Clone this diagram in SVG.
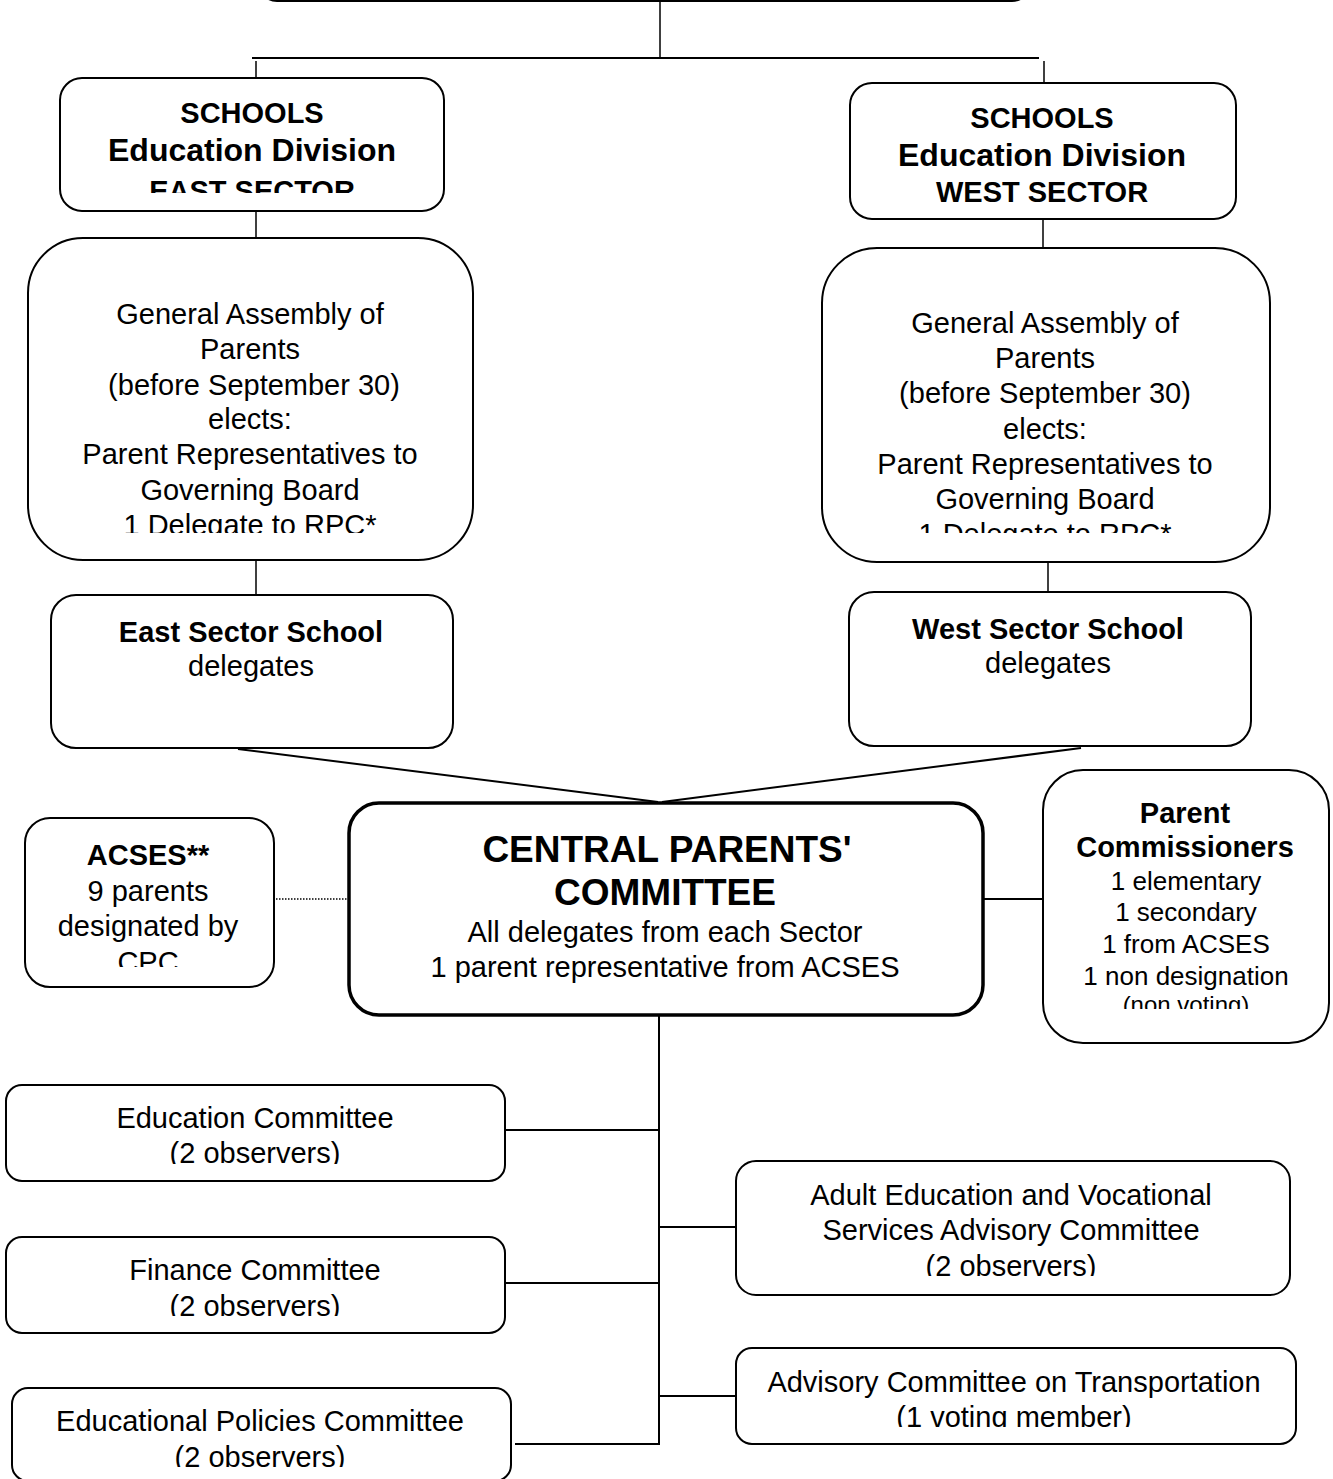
<svg xmlns="http://www.w3.org/2000/svg" width="1333" height="1479" viewBox="0 0 1333 1479">
<style>
.box{fill:#fff;stroke:#000;stroke-width:2}
.thick{fill:#fff;stroke:#000;stroke-width:3.5}
.ln{fill:none;stroke:#000;stroke-width:1.5}
.ln2{fill:none;stroke:#000;stroke-width:2}
.dot{fill:none;stroke:#000;stroke-width:1.5;stroke-dasharray:1.5 1.5}
text{font-family:"Liberation Sans",Arial,Helvetica,sans-serif;fill:#000;text-anchor:middle}
.n{font-size:29px}
.b{font-size:29px;font-weight:bold}
.bl{font-size:32px;font-weight:bold}
.t{font-size:37px;font-weight:bold}
.s{font-size:26px}
.xs{font-size:24px}
</style>
<defs>
<clipPath id="cEast"><rect x="60" y="78" width="384" height="115"/></clipPath>
<clipPath id="cGaE"><rect x="28" y="238" width="445" height="295"/></clipPath>
<clipPath id="cGaW"><rect x="822" y="248" width="448" height="285"/></clipPath>
<clipPath id="cAcses"><rect x="25" y="818" width="249" height="149"/></clipPath>
<clipPath id="cComm"><rect x="1043" y="770" width="286" height="239"/></clipPath>
<clipPath id="cEd"><rect x="6" y="1085" width="499" height="79"/></clipPath>
<clipPath id="cFin"><rect x="6" y="1237" width="499" height="79"/></clipPath>
<clipPath id="cPol"><rect x="12" y="1388" width="499" height="79"/></clipPath>
<clipPath id="cAdult"><rect x="736" y="1161" width="554" height="115"/></clipPath>
<clipPath id="cTrans"><rect x="736" y="1348" width="560" height="79"/></clipPath>
</defs>

<g id="connectors">
<line class="ln" x1="660" y1="0" x2="660" y2="58"/>
<line class="ln2" x1="252" y1="58" x2="1039" y2="58" stroke-width="2.5"/>
<line class="ln" x1="256" y1="61" x2="256" y2="87"/>
<line class="ln" x1="1044" y1="61" x2="1044" y2="83"/>
<line class="ln" x1="256" y1="211" x2="256" y2="238"/>
<line class="ln" x1="1043" y1="219" x2="1043" y2="248"/>
<line class="ln" x1="256" y1="560" x2="256" y2="600"/>
<line class="ln" x1="1048" y1="562" x2="1048" y2="592"/>
<line class="ln2" x1="238" y1="749" x2="658" y2="802"/>
<line class="ln2" x1="1081" y1="748" x2="662" y2="802"/>
<line class="dot" x1="276" y1="899" x2="350" y2="899"/>
<line class="ln2" x1="983" y1="899" x2="1043" y2="899"/>
<line class="ln2" x1="659" y1="1015" x2="659" y2="1445"/>
<line class="ln2" x1="505" y1="1130" x2="659" y2="1130"/>
<line class="ln2" x1="505" y1="1283" x2="659" y2="1283"/>
<line class="ln2" x1="515" y1="1444" x2="659" y2="1444"/>
<line class="ln2" x1="659" y1="1227" x2="736" y2="1227"/>
<line class="ln2" x1="659" y1="1396" x2="736" y2="1396"/>
</g>

<g id="top-node">
<rect class="box" x="259" y="-60" width="771" height="61" rx="18" stroke-width="3"/>
</g>

<g id="east-division">
<rect class="box" x="60" y="78" width="384" height="133" rx="22"/>
<text class="b" x="252" y="123">SCHOOLS</text>
<text class="bl" x="252" y="161">Education Division</text>
<text class="b" x="252" y="201" clip-path="url(#cEast)">EAST SECTOR</text>
</g>

<g id="west-division">
<rect class="box" x="850" y="83" width="386" height="136" rx="22"/>
<text class="b" x="1042" y="128">SCHOOLS</text>
<text class="bl" x="1042" y="166">Education Division</text>
<text class="b" x="1042" y="202">WEST SECTOR</text>
</g>

<g id="east-assembly">
<rect class="box" x="28" y="238" width="445" height="322" rx="55"/>
<text class="n" x="250" y="324">General Assembly of</text>
<text class="n" x="250" y="359">Parents</text>
<text class="n" x="254" y="395">(before September 30)</text>
<text class="n" x="250" y="429">elects:</text>
<text class="n" x="250" y="464">Parent Representatives to</text>
<text class="n" x="250" y="500">Governing Board</text>
<text class="n" x="250" y="535" clip-path="url(#cGaE)">1 Delegate to RPC*</text>
</g>

<g id="west-assembly">
<rect class="box" x="822" y="248" width="448" height="314" rx="55"/>
<text class="n" x="1045" y="333">General Assembly of</text>
<text class="n" x="1045" y="368">Parents</text>
<text class="n" x="1045" y="403">(before September 30)</text>
<text class="n" x="1045" y="439">elects:</text>
<text class="n" x="1045" y="474">Parent Representatives to</text>
<text class="n" x="1045" y="509">Governing Board</text>
<text class="n" x="1045" y="544" clip-path="url(#cGaW)">1 Delegate to RPC*</text>
</g>

<g id="east-delegates">
<rect class="box" x="51" y="595" width="402" height="153" rx="25"/>
<text class="b" x="251" y="642">East Sector School</text>
<text class="n" x="251" y="676">delegates</text>
</g>

<g id="west-delegates">
<rect class="box" x="849" y="592" width="402" height="154" rx="25"/>
<text class="b" x="1048" y="639">West Sector School</text>
<text class="n" x="1048" y="673">delegates</text>
</g>

<g id="acses">
<rect class="box" x="25" y="818" width="249" height="169" rx="25"/>
<text class="b" x="148" y="865">ACSES**</text>
<text class="n" x="148" y="901">9 parents</text>
<text class="n" x="148" y="936">designated by</text>
<text class="n" x="148" y="972" clip-path="url(#cAcses)">CPC</text>
</g>

<g id="cpc">
<rect class="thick" x="349" y="803" width="634" height="212" rx="30"/>
<text class="t" x="667" y="862">CENTRAL PARENTS'</text>
<text class="t" x="665" y="905">COMMITTEE</text>
<text class="n" x="665" y="942">All delegates from each Sector</text>
<text class="n" x="665" y="977">1 parent representative from ACSES</text>
</g>

<g id="commissioners">
<rect class="box" x="1043" y="770" width="286" height="273" rx="40"/>
<text class="b" x="1185" y="823">Parent</text>
<text class="b" x="1185" y="857">Commissioners</text>
<text class="s" x="1186" y="890">1 elementary</text>
<text class="s" x="1186" y="921">1 secondary</text>
<text class="s" x="1186" y="953">1 from ACSES</text>
<text class="s" x="1186" y="985">1 non designation</text>
<text class="xs" x="1186" y="1013" clip-path="url(#cComm)">(non voting)</text>
</g>

<g id="education-committee">
<rect class="box" x="6" y="1085" width="499" height="96" rx="16"/>
<text class="n" x="255" y="1128">Education Committee</text>
<text class="n" x="255" y="1163" clip-path="url(#cEd)">(2 observers)</text>
</g>

<g id="finance-committee">
<rect class="box" x="6" y="1237" width="499" height="96" rx="16"/>
<text class="n" x="255" y="1280">Finance Committee</text>
<text class="n" x="255" y="1316" clip-path="url(#cFin)">(2 observers)</text>
</g>

<g id="policies-committee">
<rect class="box" x="12" y="1388" width="499" height="93" rx="16"/>
<text class="n" x="260" y="1431">Educational Policies Committee</text>
<text class="n" x="260" y="1467" clip-path="url(#cPol)">(2 observers)</text>
</g>

<g id="adult-committee">
<rect class="box" x="736" y="1161" width="554" height="134" rx="20"/>
<text class="n" x="1011" y="1205">Adult Education and Vocational</text>
<text class="n" x="1011" y="1240">Services Advisory Committee</text>
<text class="n" x="1011" y="1276" clip-path="url(#cAdult)">(2 observers)</text>
</g>

<g id="transport-committee">
<rect class="box" x="736" y="1348" width="560" height="96" rx="16"/>
<text class="n" x="1014" y="1392">Advisory Committee on Transportation</text>
<text class="n" x="1014" y="1427" clip-path="url(#cTrans)">(1 voting member)</text>
</g>
</svg>
